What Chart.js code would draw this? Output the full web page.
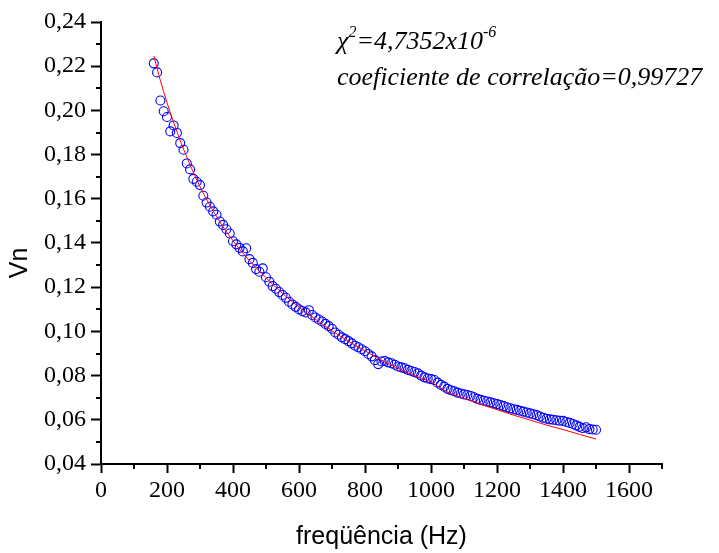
<!DOCTYPE html>
<html lang="pt">
<head>
<meta charset="utf-8">
<title>Vn x freqüência</title>
<script src="https://cdn.jsdelivr.net/npm/chart.js@4.4.1/dist/chart.umd.min.js"></script>
<style>
  body { margin: 0; background: #fff; }
  #grafico { display: block; }
</style>
</head>
<body>
<canvas id="grafico" width="719" height="553"></canvas>
<script>
// frequências medidas (Hz)
const freq = [
    160, 170, 180, 190, 200, 210, 220, 230, 240, 250,
    260, 270, 280, 290, 300, 310, 320, 330, 340, 350,
    360, 370, 380, 390, 400, 410, 420, 430, 440, 450,
    460, 470, 480, 490, 500, 510, 520, 530, 540, 550,
    560, 570, 580, 590, 600, 610, 620, 630, 640, 650,
    660, 670, 680, 690, 700, 710, 720, 730, 740, 750,
    760, 770, 780, 790, 800, 810, 820, 830, 840, 850,
    860, 870, 880, 890, 900, 910, 920, 930, 940, 950,
    960, 970, 980, 990, 1000, 1010, 1020, 1030, 1040, 1050,
    1060, 1070, 1080, 1090, 1100, 1110, 1120, 1130, 1140, 1150,
    1160, 1170, 1180, 1190, 1200, 1210, 1220, 1230, 1240, 1250,
    1260, 1270, 1280, 1290, 1300, 1310, 1320, 1330, 1340, 1350,
    1360, 1370, 1380, 1390, 1400, 1410, 1420, 1430, 1440, 1450,
    1460, 1470, 1480, 1490, 1500
];
// Vn medido em cada frequência
const vn = [
    0.2213, 0.2172, 0.2045, 0.1996, 0.1970, 0.1905, 0.1932, 0.1898, 0.1852, 0.1822,
    0.1760, 0.1733, 0.1690, 0.1677, 0.1662, 0.1614, 0.1583, 0.1564, 0.1543, 0.1528,
    0.1497, 0.1482, 0.1462, 0.1443, 0.1408, 0.1394, 0.1378, 0.1362, 0.1376, 0.1327,
    0.1310, 0.1282, 0.1270, 0.1285, 0.1245, 0.1225, 0.1205, 0.1193, 0.1178, 0.1165,
    0.1152, 0.1134, 0.1122, 0.1111, 0.1100, 0.1092, 0.1086, 0.1096, 0.1074, 0.1063,
    0.1054, 0.1045, 0.1034, 0.1024, 0.1012, 0.0995, 0.0985, 0.0973, 0.0965, 0.0956,
    0.0946, 0.0935, 0.0928, 0.0919, 0.0910, 0.0898, 0.0887, 0.0870, 0.0852, 0.0864,
    0.0866, 0.0860, 0.0856, 0.0849, 0.0841, 0.0837, 0.0833, 0.0826, 0.0821, 0.0816,
    0.0810, 0.0800, 0.0792, 0.0787, 0.0784, 0.0780, 0.0768, 0.0758, 0.0750, 0.0740,
    0.0734, 0.0729, 0.0723, 0.0719, 0.0715, 0.0712, 0.0708, 0.0702, 0.0695, 0.0690,
    0.0686, 0.0683, 0.0679, 0.0675, 0.0671, 0.0667, 0.0662, 0.0657, 0.0652, 0.0648,
    0.0645, 0.0641, 0.0637, 0.0633, 0.0629, 0.0625, 0.0621, 0.0615, 0.0609, 0.0605,
    0.0602, 0.0600, 0.0598, 0.0596, 0.0595, 0.0590, 0.0586, 0.0581, 0.0575, 0.0568,
    0.0562, 0.0566, 0.0558, 0.0556, 0.0555
];
// curva ajustada (linha vermelha)
const fitFreq = [160, 170, 180, 200, 225, 250, 300, 350, 400, 450, 500, 550, 600, 650, 700,
    750, 800, 850, 900, 950, 1000, 1050, 1100, 1150, 1200, 1250, 1300, 1350, 1400, 1450, 1500];
const fitVn = [0.2246, 0.2190, 0.2135, 0.2035, 0.1925, 0.1825, 0.1655, 0.1520, 0.1410, 0.1320,
    0.1243, 0.1172, 0.1110, 0.1055, 0.1003, 0.0955, 0.0912, 0.0870, 0.0833, 0.0800, 0.0770,
    0.0726, 0.0697, 0.0670, 0.0646, 0.0621, 0.0599, 0.0576, 0.0556, 0.0534, 0.0513];

// marcas dos eixos
const xTicks = [0, 200, 400, 600, 800, 1000, 1200, 1400, 1600];
const xMinor = [100, 300, 500, 700, 900, 1100, 1300, 1500, 1700];
const yTicks = [0.04, 0.06, 0.08, 0.10, 0.12, 0.14, 0.16, 0.18, 0.20, 0.22, 0.24];
const yMinor = [0.05, 0.07, 0.09, 0.11, 0.13, 0.15, 0.17, 0.19, 0.21, 0.23];

const xTitle = 'freqüência (Hz)';
const yTitle = 'Vn';
const chiText = ['χ', '2', '=4,7352x10', '-6'];
const corrText = 'coeficiente de correlação=0,99727';

const serif = '"Liberation Serif", "Times New Roman", Tinos, "DejaVu Serif", serif';
const sans = '"Liberation Sans", Arial, sans-serif';

const pontos = freq.map((f, i) => ({ x: f, y: vn[i] }));
const ajuste = fitFreq.map((f, i) => ({ x: f, y: fitVn[i] }));

// marcas menores, título do eixo y e texto do ajuste
const extras = {
    id: 'extras',
    afterDraw(chart) {
        const ctx = chart.ctx;
        const xs = chart.scales.x;
        const ys = chart.scales.y;
        const area = chart.chartArea;
        ctx.save();
        ctx.strokeStyle = '#000';
        ctx.lineWidth = 2;
        xMinor.forEach(v => {
            const px = Math.round(xs.getPixelForValue(v));
            ctx.beginPath();
            ctx.moveTo(px, area.bottom);
            ctx.lineTo(px, area.bottom + 5);
            ctx.stroke();
        });
        yMinor.forEach(v => {
            const py = Math.round(ys.getPixelForValue(v));
            ctx.beginPath();
            ctx.moveTo(area.left, py);
            ctx.lineTo(area.left - 5, py);
            ctx.stroke();
        });

        // Vn
        ctx.fillStyle = '#000';
        ctx.font = '25px ' + sans;
        ctx.textAlign = 'center';
        ctx.textBaseline = 'middle';
        ctx.translate(20, 263);
        ctx.rotate(-Math.PI / 2);
        ctx.fillText(yTitle, 0, 0);
        ctx.setTransform(1, 0, 0, 1, 0, 0);

        // chi² e correlação
        ctx.textAlign = 'left';
        ctx.textBaseline = 'alphabetic';
        let x = 337;
        const big = 'italic 26px ' + serif;
        const small = 'italic 16px ' + serif;
        ctx.font = big;
        ctx.fillText(chiText[0], x, 49);
        x += ctx.measureText(chiText[0]).width;
        ctx.font = small;
        ctx.fillText(chiText[1], x, 37);
        x += ctx.measureText(chiText[1]).width;
        ctx.font = big;
        ctx.fillText(chiText[2], x, 49);
        x += ctx.measureText(chiText[2]).width;
        ctx.font = small;
        ctx.fillText(chiText[3], x, 37);
        ctx.font = big;
        ctx.fillText(corrText, 337, 85);
        ctx.restore();
    }
};

Chart.defaults.color = '#000';

new Chart(document.getElementById('grafico'), {
    type: 'scatter',
    data: {
        datasets: [{
            label: 'ajuste',
            data: ajuste,
            showLine: true,
            borderColor: '#ff0000',
            borderWidth: 1,
            pointRadius: 0,
            cubicInterpolationMode: 'monotone',
            order: 0
        }, {
            label: 'Vn',
            data: pontos,
            pointStyle: 'circle',
            pointRadius: 4.5,
            pointBorderWidth: 1.1,
            pointBorderColor: '#0000ff',
            pointBackgroundColor: 'rgba(0,0,0,0)',
            order: 1
        }]
    },
    options: {
        responsive: false,
        animation: false,
        layout: { padding: { left: 0, right: 57, top: 22, bottom: 0 } },
        plugins: {
            legend: { display: false },
            tooltip: { enabled: false }
        },
        scales: {
            x: {
                type: 'linear',
                min: 0,
                max: 1700,
                afterBuildTicks: scale => { scale.ticks = xTicks.map(v => ({ value: v })); },
                afterFit: scale => { scale.height = 89; },
                grid: { drawOnChartArea: false, drawTicks: true, tickLength: 9, tickWidth: 2, tickColor: '#000' },
                border: { display: true, color: '#000', width: 2 },
                ticks: {
                    padding: 3,
                    maxRotation: 0,
                    font: { family: serif, size: 24 },
                    callback: v => String(v)
                },
                title: {
                    display: true,
                    text: xTitle,
                    font: { family: sans, size: 25 },
                    padding: { top: 0, bottom: 1 }
                }
            },
            y: {
                type: 'linear',
                min: 0.04,
                max: 0.24,
                afterBuildTicks: scale => { scale.ticks = yTicks.map(v => ({ value: v })); },
                afterFit: scale => { scale.width = 101; },
                grid: { drawOnChartArea: false, drawTicks: true, tickLength: 10, tickWidth: 2, tickColor: '#000' },
                border: { display: true, color: '#000', width: 2 },
                ticks: {
                    padding: 5,
                    font: { family: serif, size: 24 },
                    callback: v => v.toFixed(2).replace('.', ',')
                }
            }
        }
    },
    plugins: [extras]
});
</script>
</body>
</html>
